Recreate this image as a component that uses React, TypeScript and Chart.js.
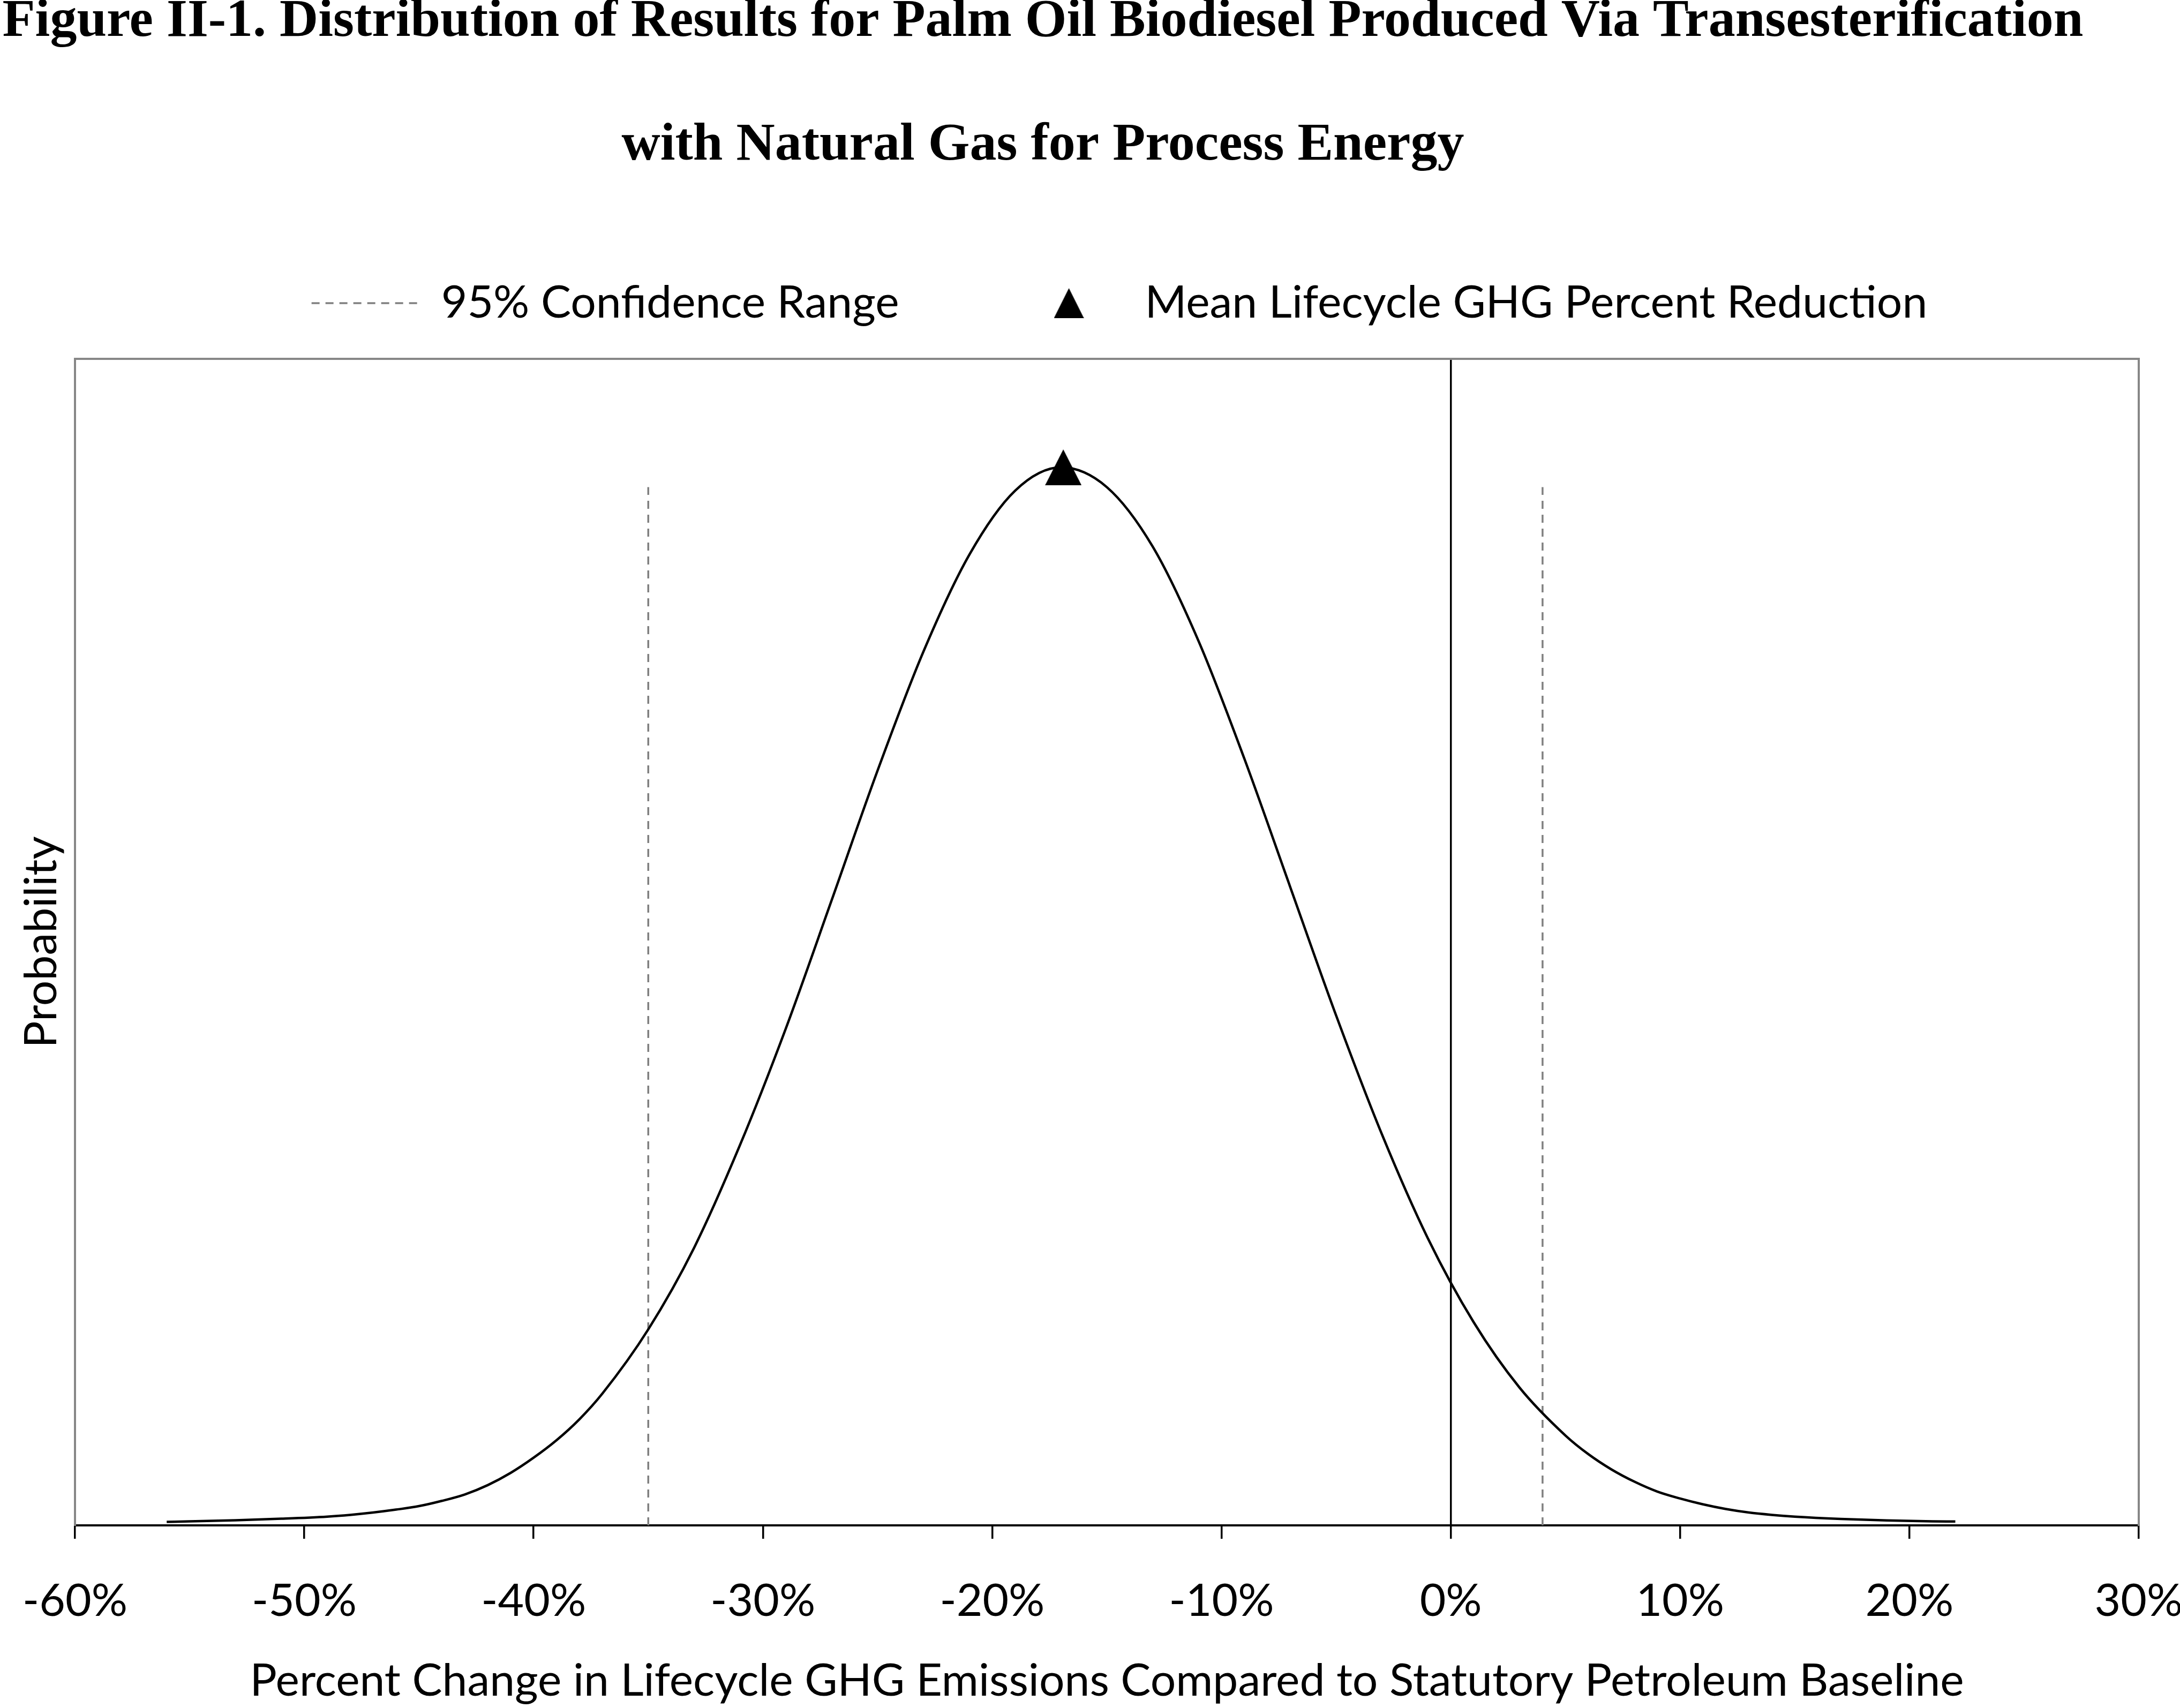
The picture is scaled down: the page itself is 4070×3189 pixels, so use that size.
import React, { useEffect, useRef } from 'react';
import { Chart, registerables } from 'chart.js';

Chart.register(...registerables);

// ---------- data ----------
const titleLines = [
  'Figure II-1. Distribution of Results for Palm Oil Biodiesel Produced Via Transesterification',
  'with Natural Gas for Process Energy',
];
const legendLabels = ['95% Confidence Range', 'Mean Lifecycle GHG Percent Reduction'];
const xAxisTitle = 'Percent Change in Lifecycle GHG Emissions Compared to Statutory Petroleum Baseline';
const yAxisTitle = 'Probability';

const xTickValues = [-60, -50, -40, -30, -20, -10, 0, 10, 20, 30];

const curveX = [
  -56, -55, -53, -51, -49, -48, -47, -46, -45, -44, -43, -42, -41, -40, -39, -38, -37, -35, -33, -31,
  -29, -27, -25, -23, -21, -19, -17, -15, -13, -11, -9, -7, -5, -3, -1, 1, 3, 5, 6, 7, 8, 9, 10, 11,
  12, 13, 14, 15, 17, 19, 21, 22,
];
const curveY = [
  0.003, 0.0034, 0.0044, 0.0057, 0.0075, 0.009, 0.011, 0.0135, 0.0165, 0.021, 0.0265, 0.0345, 0.045,
  0.058, 0.073, 0.091, 0.113, 0.168, 0.238, 0.326, 0.426, 0.536, 0.647, 0.749, 0.832, 0.887, 0.907, 0.89,
  0.839, 0.758, 0.657, 0.547, 0.437, 0.335, 0.246, 0.174, 0.118, 0.077, 0.061, 0.048, 0.0375, 0.029,
  0.023, 0.018, 0.014, 0.011, 0.009, 0.0075, 0.0055, 0.0042, 0.0035, 0.0033,
];

const confidenceBounds = [-35, 4];
const confidenceTop = 0.89;

const meanX = -16.9;
const meanY = 0.907;

// ---------- styling ----------
const CANVAS_W = 4180;
const CANVAS_H = 3189;
const FONT = 'Lato';
const FONT_SIZE = 84;
const FRAME_GRAY = '#878787';
const DASH_GRAY = '#808080';
const DASH = [15, 11];

function triangleImage(w: number, h: number): HTMLCanvasElement {
  const c = document.createElement('canvas');
  c.width = w;
  c.height = h;
  const g = c.getContext('2d')!;
  g.fillStyle = '#000';
  g.beginPath();
  g.moveTo(w / 2, 0);
  g.lineTo(w, h);
  g.lineTo(0, h);
  g.closePath();
  g.fill();
  return c;
}

const figureTitle = {
  id: 'figureTitle',
  afterDraw(chart: any) {
    const { ctx } = chart;
    ctx.save();
    ctx.fillStyle = '#000';
    ctx.font = 'bold 100px "Liberation Serif"';
    ctx.textAlign = 'center';
    ctx.textBaseline = 'alphabetic';
    ctx.fillText(titleLines[0], 1947, 67);
    ctx.fillText(titleLines[1], 1947, 298);
    ctx.restore();
  },
};

export default function App() {
  const ref = useRef<HTMLCanvasElement>(null);

  useEffect(() => {
    if (!ref.current) return;
    const legendTri = triangleImage(56, 56);
    const dataTri = triangleImage(68, 67);

    const datasets: any[] = [
      {
        label: legendLabels[1],
        data: [{ x: meanX, y: meanY }],
        pointStyle: dataTri,
        pointRadius: 34,
        showLine: false,
        order: 0,
      },
      {
        label: 'curve',
        data: curveX.map((x, i) => ({ x, y: curveY[i] })),
        showLine: true,
        borderColor: '#000',
        borderWidth: 4.5,
        pointRadius: 0,
        cubicInterpolationMode: 'monotone',
        fill: false,
        order: 1,
      },
      ...confidenceBounds.map((b) => ({
        label: legendLabels[0],
        data: [
          { x: b, y: 0 },
          { x: b, y: confidenceTop },
        ],
        showLine: true,
        borderColor: DASH_GRAY,
        borderWidth: 3.5,
        borderDash: DASH,
        pointRadius: 0,
        fill: false,
        order: 2,
      })),
    ];

    const font = { family: FONT, size: FONT_SIZE };

    const chart = new Chart(ref.current, {
      type: 'scatter',
      data: { datasets },
      plugins: [figureTitle],
      options: {
        animation: false,
        responsive: false,
        devicePixelRatio: 1,
        events: [],
        layout: { padding: { top: 307, right: 0, bottom: 0, left: 0 } },
        plugins: {
          tooltip: { enabled: false },
          title: { display: false },
          legend: {
            display: true,
            position: 'top',
            align: 'center',
            labels: {
              usePointStyle: true,
              pointStyleWidth: 200,
              padding: 217,
              font,
              color: '#000',
              generateLabels: () => [
                {
                  text: legendLabels[0],
                  pointStyle: 'line',
                  strokeStyle: DASH_GRAY,
                  fillStyle: 'rgba(0,0,0,0)',
                  lineWidth: 3.5,
                  lineDash: DASH,
                  fontColor: '#000',
                  hidden: false,
                },
                {
                  text: legendLabels[1],
                  pointStyle: legendTri,
                  strokeStyle: '#000',
                  fillStyle: '#000',
                  lineWidth: 0,
                  fontColor: '#000',
                  hidden: false,
                },
              ],
            },
          },
        },
        scales: {
          x: {
            type: 'linear',
            position: 'bottom',
            min: -60,
            max: 30,
            afterBuildTicks: (scale: any) => {
              scale.ticks = xTickValues.map((v) => ({ value: v }));
            },
            afterFit: (scale: any) => {
              scale.height = 341;
            },
            ticks: {
              font: { family: FONT, size: FONT_SIZE, lineHeight: 1.8 },
              color: '#000',
              padding: 41,
              maxRotation: 0,
              autoSkip: false,
              callback: (v: any) => `${v}%`,
            },
            grid: {
              display: true,
              drawOnChartArea: true,
              color: (c: any) => (c.tick && c.tick.value === 0 ? '#000' : 'rgba(0,0,0,0)'),
              tickColor: '#000',
              lineWidth: 3.5,
              tickWidth: 3.5,
              tickLength: 25,
            },
            border: { display: true, color: '#000', width: 4 },
            title: {
              display: true,
              text: xAxisTitle,
              font,
              color: '#000',
              padding: { top: 0, bottom: 0 },
            },
          },
          y: {
            type: 'linear',
            position: 'left',
            min: 0,
            max: 1,
            afterFit: (scale: any) => {
              scale.width = 140;
            },
            ticks: { display: false },
            grid: { display: false },
            border: { display: true, color: FRAME_GRAY, width: 4 },
            title: {
              display: true,
              text: yAxisTitle,
              font,
              color: '#000',
              padding: { top: 28, bottom: 0 },
            },
          },
          x2: {
            type: 'linear',
            position: 'top',
            min: -60,
            max: 30,
            afterFit: (scale: any) => {
              scale.height = 52;
            },
            ticks: { display: false },
            grid: { display: false },
            border: { display: true, color: FRAME_GRAY, width: 4 },
          },
          y2: {
            type: 'linear',
            position: 'right',
            min: 0,
            max: 1,
            afterFit: (scale: any) => {
              scale.width = 187;
            },
            ticks: { display: false },
            grid: { display: false },
            border: { display: true, color: FRAME_GRAY, width: 4 },
          },
        },
      } as any,
    });

    return () => chart.destroy();
  }, []);

  return (
    <div
      style={{
        position: 'absolute',
        left: 0,
        top: 0,
        width: 4070,
        height: 3189,
        overflow: 'hidden',
        background: '#fff',
      }}
    >
      <canvas
        ref={ref}
        width={CANVAS_W}
        height={CANVAS_H}
        style={{ display: 'block', width: CANVAS_W, height: CANVAS_H }}
      />
    </div>
  );
}
